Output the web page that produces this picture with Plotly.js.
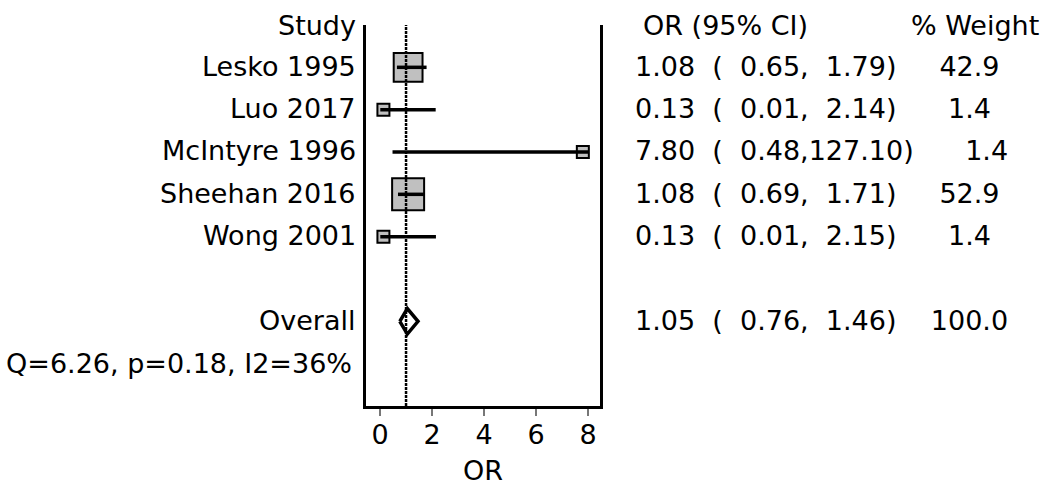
<!DOCTYPE html>
<html><head><meta charset="utf-8">
<script src="https://cdn.plot.ly/plotly-3.0.1.min.js"></script>
<style>html,body{margin:0;padding:0;background:#fff}#chart{width:1051px;height:491px}</style>
</head><body><div id="chart"></div>
<script>
// ---- data ----
const studies = ["Lesko 1995", "Luo 2017", "McIntyre 1996", "Sheehan 2016", "Wong 2001"];
const orEst   = [1.08, 0.13, 7.80, 1.08, 0.13];
const ciLow   = [0.65, 0.01, 0.48, 0.69, 0.01];
const ciHigh  = [1.79, 2.14, 127.10, 1.71, 2.15];
const weights = [42.9, 1.4, 1.4, 52.9, 1.4];
const overallLabel = "Overall";
const overallEst = 1.05, overallLow = 0.76, overallHigh = 1.46, overallWeight = 100.0;
const heterogeneity = "Q=6.26, p=0.18, I2=36%";
const headers = ["Study", "OR (95% CI)", "% Weight"];
const xTicks = [0, 2, 4, 6, 8];
const xTitle = "OR";
const refValue = 1;

// ---- layout helpers ----
const FONT = "DejaVu Sans";
const FS = 27;
const L = 366, R = 600, W = 1051;
const px = p => (p - L) / (R - L);         // pixel -> paper x
const nb = s => s.replace(/ /g, "\u00a0");
const pad = (v, w, d) => v.toFixed(d).padStart(w);
const clipMax = xTicks[xTicks.length - 1];

const rowStudy = studies.map((_, i) => i + 1);
const rowOverall = studies.length + 2;
const rowHet = rowOverall + 1;
const nRows = rowHet + 1;

const traces = [];
// boxes
traces.push({
  x: orEst, y: rowStudy, mode: "markers", type: "scatter", hoverinfo: "skip",
  marker: { symbol: "square", color: "#c0c0c0", opacity: 1,
            size: weights.map(w => Math.max(12, 4.4 * Math.sqrt(w))),
            line: { color: "#000", width: 2 } }
});
// CI lines
studies.forEach((s, i) => {
  traces.push({
    x: [ciLow[i], Math.min(ciHigh[i], clipMax)], y: [rowStudy[i], rowStudy[i]],
    mode: "lines", type: "scatter", hoverinfo: "skip", line: { color: "#000", width: 3.5 }
  });
});
// diamond
const dh = 0.3;
traces.push({
  x: [overallLow, overallEst, overallHigh, overallEst, overallLow],
  y: [rowOverall, rowOverall - dh, rowOverall, rowOverall + dh, rowOverall],
  mode: "lines", type: "scatter", fill: "toself", fillcolor: "#fff", hoverinfo: "skip",
  line: { color: "#000", width: 3.5 }
});

const ann = [];
const txt = (text, x, y, xanchor) => ann.push({
  text: nb(text), x: x, y: y, xref: "paper", yref: "y", xanchor: xanchor, yanchor: "middle",
  showarrow: false, font: { family: FONT, size: FS, color: "#000" }
});
txt(headers[0], px(358), 0, "right");
txt(headers[1], px(641), 0, "left");
txt(headers[2], px(909), 0, "left");
studies.forEach((s, i) => {
  txt(s, px(358), rowStudy[i] - 0.03, "right");
  txt(pad(orEst[i], 4, 2) + "  (" + pad(ciLow[i], 6, 2) + "," + pad(ciHigh[i], 6, 2) + ")    " + pad(weights[i], 5, 1),
      px(633), rowStudy[i] - 0.03, "left");
});
txt(overallLabel, px(358), rowOverall - 0.03, "right");
txt(pad(overallEst, 4, 2) + "  (" + pad(overallLow, 6, 2) + "," + pad(overallHigh, 6, 2) + ")    " + pad(overallWeight, 5, 1),
    px(633), rowOverall - 0.03, "left");
txt(heterogeneity, px(4), rowHet, "left");

const layout = {
  width: W, height: 491,
  margin: { l: L, r: W - R, t: 25, b: 85 },
  paper_bgcolor: "#fff", plot_bgcolor: "#fff",
  showlegend: false,
  xaxis: {
    range: [-0.54, 8.46], tickvals: xTicks, ticktext: xTicks.map(String),
    showgrid: false, zeroline: false, showline: true, linecolor: "#000", linewidth: 3,
    ticks: "outside", ticklen: 7, tickwidth: 2, tickcolor: "#777",
    ticklabelstandoff: -4,
    tickfont: { family: FONT, size: FS, color: "#000" },
    title: { text: xTitle, font: { family: FONT, size: FS, color: "#000" }, standoff: 12 },
    fixedrange: true
  },
  yaxis: {
    range: [nRows, 0], showgrid: false, zeroline: false, showticklabels: false, ticks: "",
    showline: true, mirror: true, linecolor: "#000", linewidth: 3, fixedrange: true
  },
  shapes: [{
    type: "line", xref: "x", yref: "paper", x0: refValue, x1: refValue, y0: 0, y1: 1,
    layer: "above", line: { color: "#000", width: 2.5, dash: "3px,1px" }
  }],
  annotations: ann
};
Plotly.newPlot("chart", traces, layout, { staticPlot: true, displayModeBar: false });
</script>
</body></html>
